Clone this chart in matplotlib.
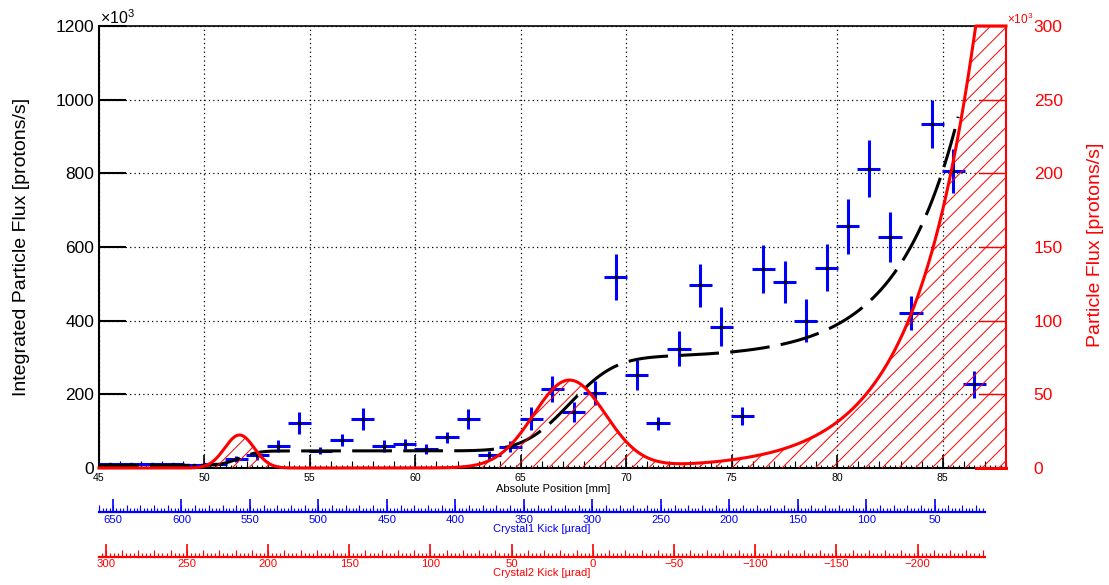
import numpy as np
import matplotlib
matplotlib.use("Agg")
import matplotlib.pyplot as plt
from matplotlib.ticker import MultipleLocator

plt.rcParams['font.family'] = ['Liberation Sans', 'DejaVu Sans']
plt.rcParams['mathtext.fontset'] = 'custom'
plt.rcParams['mathtext.rm'] = 'Liberation Sans'
plt.rcParams['hatch.linewidth'] = 0.7

# Measured integrated flux per 1 mm position bin [x10^3 protons/s]
position = [45.5, 46.5, 47.5, 48.5, 49.5, 50.5, 51.5, 52.5, 53.5, 54.5,
            55.5, 56.5, 57.5, 58.5, 59.5, 60.5, 61.5, 62.5, 63.5, 64.5,
            65.5, 66.5, 67.5, 68.5, 69.5, 70.5, 71.5, 72.5, 73.5, 74.5,
            75.5, 76.5, 77.5, 78.5, 79.5, 80.5, 81.5, 82.5, 83.5, 84.5,
            85.5, 86.5]
flux = [10, 10, 10, 10, 8, 10, 24, 34, 59, 123,
        47, 76, 132, 60, 65, 52, 83, 132, 34, 58,
        134, 214, 152, 204, 519, 253, 121, 324, 496, 384,
        141, 540, 505, 400, 544, 656, 813, 627, 422, 934,
        806, 227]
flux_err = [3, 3, 3, 3, 3, 3, 9, 12, 16, 30,
            10, 16, 30, 17, 14, 14, 16, 27, 11, 15,
            32, 36, 27, 32, 62, 41, 17, 47, 59, 53,
            25, 65, 58, 58, 64, 74, 78, 68, 46, 66,
            60, 37]
pos_err = 0.55

# Fitted particle flux model: two gaussian peaks plus an exponential tail
peak_amp = [22.4, 59.3]        # x10^3 protons/s
peak_mean = [51.66, 67.3]      # mm
peak_sigma = [0.70, 1.70]      # mm
tail_amp, tail_ref, tail_len = 250.0, 86.03, 2.9
integ_offset = 7.0             # integrated flux at 45 mm
integ_end = 85.75              # mm

xs = np.linspace(45, 88, 1500)
model = tail_amp * np.exp((xs - tail_ref) / tail_len)
for a, m, s in zip(peak_amp, peak_mean, peak_sigma):
    model = model + a * np.exp(-0.5 * ((xs - m) / s) ** 2)
model_clip = np.minimum(model, 300)

integ = integ_offset + np.concatenate(
    [[0], np.cumsum(0.5 * (model[1:] + model[:-1]) * np.diff(xs))])
keep = xs <= integ_end

W, H = 1109, 585
fig = plt.figure(figsize=(W / 100, H / 100), dpi=100)
ax = fig.add_axes([99 / W, 1 - 468 / H, 907 / W, 442 / H])
ax.set_xlim(45, 88)
ax.set_ylim(0, 1200)

ax.grid(True, which='major', linestyle=(0, (1, 2.5)), color='black', lw=0.9)
ax.set_axisbelow(True)

ax.errorbar(position, flux, yerr=flux_err, xerr=pos_err, fmt='s', ms=2,
            mfc='black', mec='black', ecolor='blue', elinewidth=2.2,
            capsize=0, zorder=3)
ax.plot(xs[keep], integ[keep], color='black', lw=2.2,
        linestyle=(0, (13, 3.7)), zorder=4)

ax.yaxis.set_major_locator(MultipleLocator(200))
ax.xaxis.set_major_locator(MultipleLocator(5))
ax.xaxis.set_minor_locator(MultipleLocator(0.25))
ax.tick_params(axis='y', which='major', direction='in', length=19.4,
               width=1.5, labelsize=12.5, pad=3.5, right=False)
ax.tick_params(axis='x', which='major', direction='in', length=9.4,
               width=1.2, labelsize=7.6, pad=3.5, top=False)
ax.tick_params(axis='x', which='minor', direction='in', length=2.5,
               width=0.8, top=False)
mid = ax.secondary_xaxis('bottom')
mid.xaxis.set_major_locator(MultipleLocator(1))
mid.tick_params(direction='in', length=4.8, width=0.8, labelbottom=False)
mid.spines['bottom'].set_visible(False)

for side in ('left', 'bottom'):
    ax.spines[side].set_linewidth(1.5)
ax.spines['top'].set_linewidth(1.2)
ax.spines['right'].set_visible(False)

# right axis: particle flux
ax2 = ax.twinx()
ax2.set_ylim(0, 300)
ax2.fill_between(xs, 0, model_clip, facecolor='none', edgecolor='red',
                 hatch='//', lw=0)
ax2.plot(xs, model_clip, color='red', lw=2.2, clip_on=False, zorder=5)
over = xs[model >= 300]
if len(over):
    ax2.plot([over[0], xs[-1]], [0, 0], color='red', lw=2.2, clip_on=False)
ax2.yaxis.set_major_locator(MultipleLocator(50))
ax2.tick_params(axis='y', direction='in', length=19.4, width=1,
                colors='red', labelsize=12.5, pad=20)
for side in ('left', 'top', 'bottom'):
    ax2.spines[side].set_visible(False)
ax2.spines['right'].set_color('red')
ax2.spines['right'].set_linewidth(1.5)

fig.text(99.5 / W, 1 - 24 / H, r'$\times10^{3}$', fontsize=11.5,
         ha='left', va='baseline')
fig.text(1007 / W, 1 - 24 / H, r'$\times10^{3}$', fontsize=8.5,
         color='red', ha='left', va='baseline')
fig.text(22 / W, 1 - 247 / H, 'Integrated Particle Flux [protons/s]',
         rotation=90, ha='center', va='center', fontsize=14)
fig.text(1095 / W, 1 - 245 / H, 'Particle Flux [protons/s]',
         rotation=90, ha='center', va='center', fontsize=14, color='red')
fig.text(610 / W, 1 - 489 / H, 'Absolute Position [mm]', fontsize=8,
         ha='right', va='center')


def kick_axis(ypix, lo, hi, color, title, title_y):
    kax = fig.add_axes([99 / W, 1 - ypix / H, 886 / W, 0.0001])
    kax.set_xlim(lo, hi)
    kax.patch.set_visible(False)
    for side in ('left', 'right', 'top'):
        kax.spines[side].set_visible(False)
    kax.spines['bottom'].set_color(color)
    kax.spines['bottom'].set_linewidth(1.6)
    kax.set_yticks([])
    kax.xaxis.set_major_locator(MultipleLocator(50))
    kax.xaxis.set_minor_locator(MultipleLocator(2.5))
    kax.tick_params(axis='x', which='major', direction='in', length=9.6,
                    width=1.2, colors=color, labelsize=8.2, pad=2)
    kax.tick_params(axis='x', which='minor', direction='in', length=2.8,
                    width=0.8, colors=color)
    sub = kax.secondary_xaxis('bottom')
    sub.xaxis.set_major_locator(MultipleLocator(10))
    sub.tick_params(direction='in', length=4.8, width=0.8, colors=color,
                    labelbottom=False)
    sub.spines['bottom'].set_visible(False)
    fig.text(542 / W, 1 - title_y / H, title, color=color, fontsize=8,
             ha='center', va='center')


kick_axis(512.3, 660.2, 13.3, 'blue', 'Crystal1 Kick [µrad]', 529)
kick_axis(556.7, 304.1, -241.5, 'red', 'Crystal2 Kick [µrad]', 573.3)

fig.savefig('out.png', dpi=100)
